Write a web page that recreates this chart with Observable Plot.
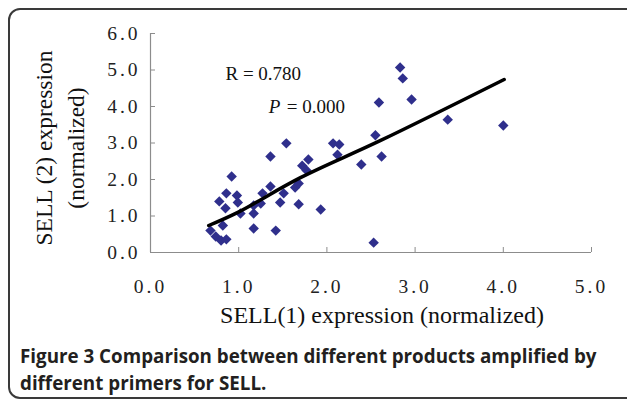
<!DOCTYPE html>
<html><head><meta charset="utf-8">
<script src="https://cdn.jsdelivr.net/npm/d3@7"></script>
<script src="https://cdn.jsdelivr.net/npm/@observablehq/plot@0.6"></script>
<style>
body{margin:0;background:#fff;width:627px;height:401px;overflow:hidden;position:relative;font-family:"Liberation Serif",serif}
#frame{position:absolute;left:8px;top:8px;width:640px;height:391px;border:2px solid #3a3a3a;border-radius:12px;box-sizing:border-box}
#chart{position:absolute;left:0;top:0}
#caption{position:absolute;left:20px;top:343px;width:605px;font-family:"Open Sans",sans-serif;font-weight:bold;font-size:18.8px;line-height:27px;color:#231f20;white-space:nowrap}
#chart svg [aria-label="y-axis tick label"] text,#chart svg [aria-label="x-axis tick label"] text{letter-spacing:3px}
</style></head><body>
<div id="frame"></div>
<div id="chart"></div>
<div id="caption">Figure 3 Comparison between different products amplified by<br>different primers for SELL.</div>
<script>
// SELL(1) expression (normalized)
const sell1 = [0.68,0.74,0.80,0.86,0.82,0.78,0.86,0.92,0.85,0.98,0.99,1.02,1.17,1.17,1.25,1.27,1.17,1.36,1.47,1.51,1.42,1.36,1.54,1.64,1.68,1.68,1.72,1.77,1.79,1.93,2.07,2.14,2.12,2.39,2.53,2.55,2.62,2.59,2.83,2.86,2.96,3.37,4.00];
// SELL(2) expression (normalized)
const sell2 = [0.60,0.44,0.33,0.36,0.74,1.40,1.62,2.08,1.21,1.56,1.37,1.07,1.29,1.07,1.34,1.62,0.66,1.81,1.37,1.62,0.60,2.63,2.99,1.78,1.32,1.89,2.38,2.25,2.55,1.18,2.99,2.96,2.68,2.41,0.27,3.21,2.63,4.11,5.07,4.77,4.19,3.64,3.48];
// trend line
const trendX = [0.66,0.99,1.70,2.61,4.01];
const trendY = [0.74,1.10,2.05,3.07,4.74];
const xTicks = [0,1,2,3,4,5];
const yTicks = [0,1,2,3,4,5,6];
const xTitle = "SELL(1) expression (normalized)";
const yTitle = "SELL (2) expression\n(normalized)";
const rLabel = "R = 0.780";
const pName = "P";
const pValue = "= 0.000";
const annot = [{x:0.85, y:4.90, t:rLabel}];
const annotP = [{x:1.34, y:3.98}];

const pts = sell1.map((x,i)=>({x, y: sell2[i]}));
const trend = trendX.map((x,i)=>({x, y: trendY[i]}));

const axisColor = "#8c8c8c";
const chart = Plot.plot({
  width: 627, height: 335,
  marginLeft: 150, marginRight: 36, marginTop: 33, marginBottom: 83,
  style: {fontFamily: "'Liberation Serif', serif", color: "#222", background: "transparent"},
  x: {domain: [0,5], label: null},
  y: {domain: [0,6], label: null},
  marks: [
    Plot.ruleY([0], {stroke: axisColor, strokeWidth: 1.2}),
    Plot.ruleX([0], {stroke: axisColor, strokeWidth: 1.2}),
    Plot.axisX(xTicks.slice(1), {tickSize: -5, text: null, stroke: axisColor, label: null}),
    Plot.axisY(yTicks.slice(1), {tickSize: -5, text: null, stroke: axisColor, label: null}),
    Plot.axisX(xTicks, {tickSize: 0, tickPadding: 27, tickFormat: d => d.toFixed(1), fontSize: 19.5, label: null}),
    Plot.axisY(yTicks, {tickSize: 0, tickPadding: 10, tickFormat: d => d.toFixed(1), fontSize: 19.5, label: null}),
    Plot.dot(pts, {x: "x", y: "y", symbol: "diamond2", r: 4.7, fill: "#2f2f8c", stroke: "none"}),
    Plot.line(trend, {x: "x", y: "y", stroke: "#000", strokeWidth: 3.5, curve: "catmull-rom"}),
    Plot.text(annot, {x: "x", y: "y", text: "t", textAnchor: "start", fontSize: 19, fill: "#111"}),
    Plot.text(annotP, {x: "x", y: "y", text: () => pName, textAnchor: "start", fontSize: 19, fontStyle: "italic", fill: "#111"}),
    Plot.text(annotP, {x: "x", y: "y", text: () => pValue, textAnchor: "start", dx: 18, fontSize: 19, fill: "#111"}),
    Plot.text([xTitle], {frameAnchor: "bottom", text: d => d, dx: 11, dy: 70, fontSize: 24, fill: "#111"}),
    Plot.text([yTitle], {frameAnchor: "left", textAnchor: "middle", text: d => d, dx: -93, dy: 5, rotate: -90, fontSize: 23.5, lineHeight: 1.4, fill: "#111"})
  ]
});
document.getElementById("chart").appendChild(chart);
</script>
</body></html>
